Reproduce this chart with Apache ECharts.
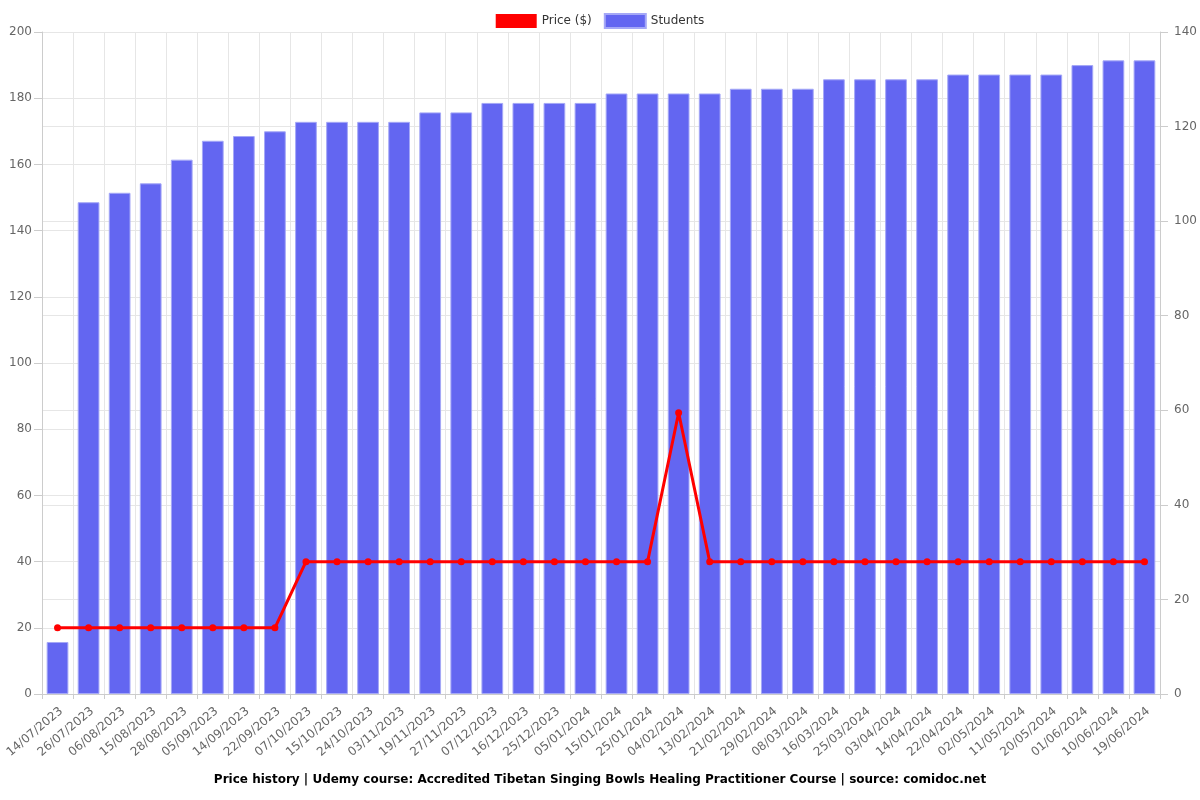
<!DOCTYPE html>
<html><head><meta charset="utf-8">
<script src="https://cdn.jsdelivr.net/npm/echarts@6/dist/echarts.min.js"></script>
<style>html,body{margin:0;padding:0;background:#fff}#c{width:1200px;height:800px}</style>
</head><body><div id="c"></div>
<script>
const categories = ["14/07/2023","26/07/2023","06/08/2023","15/08/2023","28/08/2023","05/09/2023","14/09/2023","22/09/2023","07/10/2023","15/10/2023","24/10/2023","03/11/2023","19/11/2023","27/11/2023","07/12/2023","16/12/2023","25/12/2023","05/01/2024","15/01/2024","25/01/2024","04/02/2024","13/02/2024","21/02/2024","29/02/2024","08/03/2024","16/03/2024","25/03/2024","03/04/2024","14/04/2024","22/04/2024","02/05/2024","11/05/2024","20/05/2024","01/06/2024","10/06/2024","19/06/2024"];
const price = [19.99,19.99,19.99,19.99,19.99,19.99,19.99,19.99,39.99,39.99,39.99,39.99,39.99,39.99,39.99,39.99,39.99,39.99,39.99,39.99,84.99,39.99,39.99,39.99,39.99,39.99,39.99,39.99,39.99,39.99,39.99,39.99,39.99,39.99,39.99,39.99];
const students = [11,104,106,108,113,117,118,119,121,121,121,121,123,123,125,125,125,125,127,127,127,127,128,128,128,130,130,130,130,131,131,131,131,133,134,134];
const titleText = "Price history | Udemy course: Accredited Tibetan Singing Bowls Healing Practitioner Course | source: comidoc.net";

const chart = echarts.init(document.getElementById('c'));
const font = "DejaVu Sans";
chart.setOption({
  animation: false,
  textStyle: {fontFamily: font},
  title: {text: titleText, left: 'center', bottom: 9, textStyle: {fontSize: 12, fontWeight: 'bold', color: '#000', fontFamily: font}},
  legend: {top: 8, itemWidth: 41, itemHeight: 14, itemGap: 12, icon: 'rect', textStyle: {fontSize: 12, color: '#333', fontFamily: font},
    data: [{name: 'Price ($)', itemStyle: {color: '#ff0000'}}, {name: 'Students', itemStyle: {color: '#6366f1'}}]},
  grid: {left: 42, right: 40, top: 32, bottom: 106},
  xAxis: {type: 'category', data: categories, boundaryGap: true,
    axisLabel: {rotate: 40, fontSize: 12, color: '#666', interval: 0, margin: 11, verticalAlign: 'top', fontFamily: font},
    axisTick: {show: true, alignWithLabel: false, lineStyle: {color: '#ccc'}},
    axisLine: {lineStyle: {color: '#ccc'}},
    splitLine: {show: true, lineStyle: {color: '#e6e6e6'}}},
  yAxis: [
    {type: 'value', min: 0, max: 200, interval: 20, position: 'left',
     axisLabel: {fontSize: 12, color: '#666', fontFamily: font, margin: 10},
     axisLine: {show: true, lineStyle: {color: '#ccc'}}, axisTick: {show: true, length: 8, lineStyle: {color: '#ccc'}},
     splitLine: {lineStyle: {color: '#e6e6e6'}}},
    {type: 'value', min: 0, max: 140, interval: 20, position: 'right',
     axisLabel: {fontSize: 12, color: '#666', fontFamily: font, margin: 14},
     axisLine: {show: true, lineStyle: {color: '#ccc'}}, axisTick: {show: true, length: 8, lineStyle: {color: '#ccc'}},
     splitLine: {lineStyle: {color: '#e6e6e6'}}}
  ],
  series: [
    {name: 'Price ($)', type: 'line', yAxisIndex: 0, data: price, z: 3,
     lineStyle: {color: '#ff0000', width: 3}, itemStyle: {color: '#ff0000'},
     symbol: 'circle', symbolSize: 7},
    {name: 'Students', type: 'bar', yAxisIndex: 1, data: students, barCategoryGap: '30%',
     itemStyle: {color: '#6366f1', borderColor: '#a5a8f7', borderWidth: 1}}
  ]
});
</script></body></html>
